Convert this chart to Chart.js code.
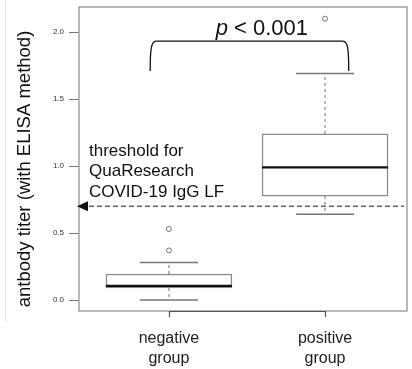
<!DOCTYPE html>
<html>
<head>
<meta charset="utf-8">
<script src="https://cdn.jsdelivr.net/npm/chart.js@4"></script>
<style>
  html, body { margin: 0; padding: 0; background: #fff; }
</style>
</head>
<body>
<canvas id="box" width="412" height="369"></canvas>
<script>
// values
const groupLabels = [['negative', 'group'], ['positive', 'group']];
const groupPos = [1, 2];
const q1 = [0.09, 0.776];
const q3 = [0.194, 1.24];
const medians = [0.105, 0.99];
const whiskerLow = [0.0, 0.64];
const whiskerHigh = [0.28, 1.69];
const outliers = [[0.53, 0.37], [2.10]];
const threshold = 0.70;
const yTicks = [0, 0.5, 1.0, 1.5, 2.0];
const thresholdText = ['threshold for', 'QuaResearch', 'COVID-19 IgG LF'];

const FONT = '"Liberation Sans", Arial, Helvetica, sans-serif';
const BOX_W = 126;

// whiskers, medians, frame and the annotations
const boxExtras = {
    id: 'boxExtras',
    afterDatasetsDraw(chart) {
        const { ctx, chartArea: a, scales: { x, y } } = chart;
        ctx.save();

        // faint border of the original image
        ctx.strokeStyle = '#e8e8e8';
        ctx.lineWidth = 1;
        ctx.beginPath();
        ctx.moveTo(5.5, 0); ctx.lineTo(5.5, 322);
        ctx.stroke();

        // plot frame
        ctx.strokeStyle = '#8a8a8a';
        ctx.lineWidth = 1.2;
        ctx.strokeRect(a.left, a.top, a.right - a.left, a.bottom - a.top);
        // x axis segment and its tick marks
        const x0 = x.getPixelForValue(groupPos[0]), x1 = x.getPixelForValue(groupPos[1]);
        ctx.strokeStyle = '#555';
        ctx.beginPath();
        ctx.moveTo(x0, a.bottom + 0.5);
        ctx.lineTo(x1, a.bottom + 0.5);
        groupPos.forEach(g => {
            const px = Math.round(x.getPixelForValue(g)) + 0.5;
            ctx.moveTo(px, a.bottom);
            ctx.lineTo(px, a.bottom + 6);
        });
        ctx.stroke();

        groupPos.forEach((g, i) => {
            const cx = x.getPixelForValue(g);
            const half = BOX_W / 2;
            const cap = 29;
            // dashed whiskers
            ctx.setLineDash([3, 3]);
            ctx.strokeStyle = '#8a8a8a';
            ctx.lineWidth = 1.2;
            ctx.beginPath();
            ctx.moveTo(cx, y.getPixelForValue(q3[i]));
            ctx.lineTo(cx, y.getPixelForValue(whiskerHigh[i]));
            ctx.moveTo(cx, y.getPixelForValue(q1[i]));
            ctx.lineTo(cx, y.getPixelForValue(whiskerLow[i]));
            ctx.stroke();
            ctx.setLineDash([]);
            // caps
            ctx.strokeStyle = '#777';
            ctx.lineWidth = 1.5;
            ctx.beginPath();
            [whiskerHigh[i], whiskerLow[i]].forEach(v => {
                const py = y.getPixelForValue(v);
                ctx.moveTo(cx - cap, py);
                ctx.lineTo(cx + cap, py);
            });
            ctx.stroke();
            // median
            ctx.strokeStyle = '#111';
            ctx.lineWidth = 2.2;
            ctx.beginPath();
            const my = y.getPixelForValue(medians[i]);
            ctx.moveTo(cx - half, my);
            ctx.lineTo(cx + half, my);
            ctx.stroke();
        });

        // threshold line with arrow
        const ty = y.getPixelForValue(threshold);
        ctx.setLineDash([5, 3]);
        ctx.strokeStyle = '#666';
        ctx.lineWidth = 1.5;
        ctx.beginPath();
        ctx.moveTo(a.left + 10, ty);
        ctx.lineTo(a.right - 3, ty);
        ctx.stroke();
        ctx.setLineDash([]);
        ctx.fillStyle = '#111';
        ctx.beginPath();
        ctx.moveTo(a.left - 2, ty);
        ctx.lineTo(a.left + 9, ty - 5);
        ctx.lineTo(a.left + 9, ty + 5);
        ctx.closePath();
        ctx.fill();

        ctx.font = '17px ' + FONT;
        ctx.textAlign = 'left';
        ctx.textBaseline = 'middle';
        thresholdText.forEach((t, k) => {
            ctx.fillText(t, a.left + 10, ty - 55 + k * 20.5);
        });

        // significance bracket
        const xl = x.getPixelForValue(0.88), xr = x.getPixelForValue(2.152);
        const yt = y.getPixelForValue(1.933), yb = y.getPixelForValue(1.709);
        ctx.strokeStyle = '#111';
        ctx.lineWidth = 1.3;
        ctx.beginPath();
        ctx.moveTo(xl, yb);
        ctx.bezierCurveTo(xl, yt + 8, xl + 1, yt, xl + 6, yt);
        ctx.lineTo(xr - 6, yt);
        ctx.bezierCurveTo(xr - 1, yt, xr, yt + 8, xr, yb);
        ctx.stroke();

        const pc = x.getPixelForValue(1.595), pb = y.getPixelForValue(1.975);
        ctx.textBaseline = 'alphabetic';
        ctx.font = 'italic 22px ' + FONT;
        const wp = ctx.measureText('p').width;
        ctx.font = '22px ' + FONT;
        const rest = ' < 0.001';
        const wr = ctx.measureText(rest).width;
        const px0 = pc - (wp + wr) / 2;
        ctx.font = 'italic 22px ' + FONT;
        ctx.fillText('p', px0, pb);
        ctx.font = '22px ' + FONT;
        ctx.fillText(rest, px0 + wp, pb);

        // y axis title
        ctx.translate(a.left - 54, (a.top + a.bottom) / 2 + 10);
        ctx.rotate(-Math.PI / 2);
        ctx.font = '18.5px ' + FONT;
        ctx.textAlign = 'center';
        ctx.textBaseline = 'middle';
        ctx.fillText('antbody titer (with ELISA method)', 0, 0);

        ctx.restore();
    }
};

const boxChart = new Chart(document.getElementById('box').getContext('2d'), {
    data: {
        datasets: [{
            type: 'bar',
            data: groupPos.map((g, i) => ({ x: g, y: [q1[i], q3[i]] })),
            barThickness: BOX_W,
            grouped: false,
            backgroundColor: '#fff',
            borderColor: '#8a8a8a',
            borderWidth: 1.5,
            borderSkipped: false
        }, {
            type: 'scatter',
            data: groupPos.flatMap((g, i) => outliers[i].map(v => ({ x: g, y: v }))),
            pointRadius: 2.5,
            pointBorderWidth: 1,
            pointBorderColor: '#777',
            pointBackgroundColor: '#fff'
        }]
    },
    options: {
        responsive: false,
        devicePixelRatio: 1,
        animation: false,
        layout: { padding: { top: 7, right: 1, left: 0, bottom: 0 } },
        plugins: {
            legend: { display: false },
            tooltip: { enabled: false }
        },
        scales: {
            x: {
                type: 'linear',
                min: 0.424,
                max: 2.525,
                offset: false,
                afterBuildTicks: s => { s.ticks = groupPos.map(v => ({ value: v })); },
                afterFit: s => { s.height = 58; s.paddingLeft = 0; s.paddingRight = 0; },
                border: { display: false },
                grid: { offset: false, drawOnChartArea: false, drawTicks: true, tickLength: 6, color: 'rgba(0,0,0,0)' },
                ticks: {
                    callback: (v, i) => groupLabels[i],
                    font: { family: FONT, size: 16, lineHeight: 1.25 },
                    color: '#222',
                    padding: 12,
                    maxRotation: 0
                }
            },
            y: {
                min: -0.082,
                max: 2.187,
                afterBuildTicks: s => { s.ticks = yTicks.map(v => ({ value: v })); },
                afterFit: s => { s.width = 79; s.paddingTop = 0; s.paddingBottom = 0; },
                border: { display: false },
                grid: { drawOnChartArea: false, drawTicks: true, tickLength: 10, color: '#777' },
                ticks: {
                    callback: v => v.toFixed(1),
                    font: { family: FONT, size: 8 },
                    color: '#333',
                    padding: 5
                }
            }
        }
    },
    plugins: [boxExtras]
});
</script>
</body>
</html>
